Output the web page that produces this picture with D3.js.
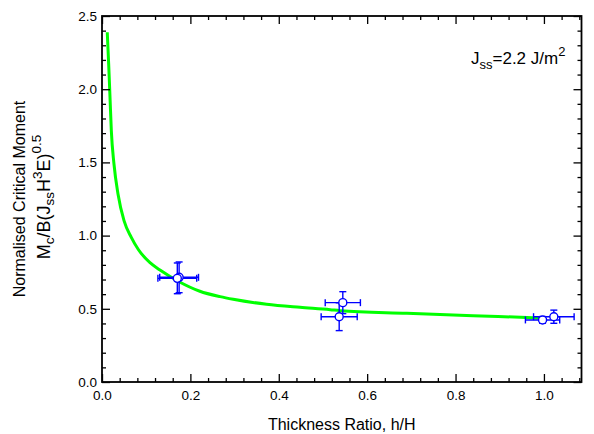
<!DOCTYPE html>
<html lang="en">
<head>
  <meta charset="UTF-8">
  <title>Critical Moment</title>
  <style>
    html, body { margin: 0; padding: 0; background: #fff; }
    text { font-family: 'Liberation Sans', Arial, sans-serif; fill: #000; }
    .tickLbl { font-size: 13.5px; }
    .axTitle { font-size: 16px; }
  </style>
  <script src="https://cdn.jsdelivr.net/npm/d3@7"></script>
</head>
<body>
<script>
  // ---- data ----
  const xMajor = [0, 0.2, 0.4, 0.6, 0.8, 1.0];
  const xMinor = [0.04, 0.08, 0.12, 0.16, 0.24, 0.28, 0.32, 0.36, 0.44, 0.48, 0.52, 0.56,
                  0.64, 0.68, 0.72, 0.76, 0.84, 0.88, 0.92, 0.96, 1.04, 1.08];
  const yMajor = [0, 0.5, 1.0, 1.5, 2.0, 2.5];
  const yMinor = [0.1, 0.2, 0.3, 0.4, 0.6, 0.7, 0.8, 0.9, 1.1, 1.2, 1.3, 1.4,
                  1.6, 1.7, 1.8, 1.9, 2.1, 2.2, 2.3, 2.4];

  // fitted curve (green), sampled off the figure
  const curveX = [0.0119, 0.0151, 0.0181, 0.0211, 0.0271, 0.0362, 0.0498, 0.0663, 0.0822,
                  0.1086, 0.1312, 0.1745, 0.2214, 0.2673, 0.2969, 0.3724, 0.4479, 0.5163, 0.5387,
                  0.6898, 0.8398, 0.9755, 1.0];
  const curveY = [2.389, 2.172, 1.945, 1.717, 1.489, 1.284, 1.102, 0.988, 0.905,
                  0.815, 0.765, 0.685, 0.62, 0.583, 0.565, 0.531, 0.51, 0.494, 0.487,
                  0.469, 0.453, 0.439, 0.436];

  // measured points with error bars
  const pointX = [0.1745, 0.1704, 0.5449, 0.5367, 0.9969, 1.0224];
  const pointY = [0.715, 0.708, 0.542, 0.446, 0.424, 0.446];
  const errX = [0.0439, 0.0439, 0.0398, 0.0408, 0.0388, 0.0459];
  const errY = [0.105, 0.105, 0.075, 0.095, 0.023, 0.045];

  const width = 594;
  const height = 434;
  const padL = 102, padR = 12.5, padT = 16, padB = 52;

  const xScale = d3.scaleLinear().domain([0, 1.085]).range([padL, width - padR]);
  const yScale = d3.scaleLinear().domain([0, 2.5]).range([height - padB, padT]);

  const svg = d3.select('body').append('svg')
    .attr('width', width)
    .attr('height', height);

  // ---- curve ----
  const line = d3.line()
    .x((d) => xScale(d[0]))
    .y((d) => yScale(d[1]))
    .curve(d3.curveMonotoneX);
  svg.append('path')
    .datum(curveX.map((x, i) => [x, curveY[i]]))
    .attr('d', line)
    .attr('fill', 'none')
    .attr('stroke', '#00ff00')
    .attr('stroke-width', 3);

  // ---- error bars + markers ----
  const pts = pointX.map((x, i) => ({ x, y: pointY[i], ex: errX[i], ey: errY[i] }));
  const cap = 3.5;
  const blue = '#0000ff';
  const eg = svg.append('g').attr('stroke', blue).attr('stroke-width', 1.4).attr('fill', 'none');
  pts.forEach((d) => {
    const cx = xScale(d.x), cy = yScale(d.y);
    const x0 = xScale(d.x - d.ex), x1 = xScale(d.x + d.ex);
    const y0 = yScale(d.y - d.ey), y1 = yScale(d.y + d.ey);
    eg.append('line').attr('x1', x0).attr('x2', x1).attr('y1', cy).attr('y2', cy);
    eg.append('line').attr('x1', x0).attr('x2', x0).attr('y1', cy - cap).attr('y2', cy + cap);
    eg.append('line').attr('x1', x1).attr('x2', x1).attr('y1', cy - cap).attr('y2', cy + cap);
    eg.append('line').attr('x1', cx).attr('x2', cx).attr('y1', y0).attr('y2', y1);
    eg.append('line').attr('x1', cx - cap).attr('x2', cx + cap).attr('y1', y0).attr('y2', y0);
    eg.append('line').attr('x1', cx - cap).attr('x2', cx + cap).attr('y1', y1).attr('y2', y1);
  });
  svg.append('g').selectAll('circle')
    .data(pts)
    .enter()
    .append('circle')
    .attr('cx', (d) => xScale(d.x))
    .attr('cy', (d) => yScale(d.y))
    .attr('r', 4)
    .attr('fill', '#fff')
    .attr('stroke', blue)
    .attr('stroke-width', 1.4);

  // ---- axes (ticks inward, mirrored on top/right) ----
  function styleAxis(g) {
    g.select('.domain').remove();
    g.selectAll('.tick line').attr('stroke', '#000').attr('stroke-width', 1.3);
  }
  const bottom = height - padB;
  svg.append('g')
    .attr('transform', `translate(0,${bottom})`)
    .call(d3.axisBottom(xScale).tickValues(xMajor).tickSize(-8).tickPadding(8)
      .tickFormat(d3.format('.1f')))
    .call(styleAxis)
    .selectAll('text').attr('class', 'tickLbl').attr('fill', null);
  svg.append('g')
    .attr('transform', `translate(0,${bottom})`)
    .call(d3.axisBottom(xScale).tickValues(xMinor).tickSize(-4).tickFormat(''))
    .call(styleAxis);
  svg.append('g')
    .attr('transform', `translate(0,${padT})`)
    .call(d3.axisTop(xScale).tickValues(xMajor).tickSize(-8).tickFormat(''))
    .call(styleAxis);
  svg.append('g')
    .attr('transform', `translate(0,${padT})`)
    .call(d3.axisTop(xScale).tickValues(xMinor).tickSize(-4).tickFormat(''))
    .call(styleAxis);

  svg.append('g')
    .attr('transform', `translate(${padL},0)`)
    .call(d3.axisLeft(yScale).tickValues(yMajor).tickSize(-8).tickPadding(5)
      .tickFormat(d3.format('.1f')))
    .call(styleAxis)
    .selectAll('text').attr('class', 'tickLbl').attr('fill', null);
  svg.append('g')
    .attr('transform', `translate(${padL},0)`)
    .call(d3.axisLeft(yScale).tickValues(yMinor).tickSize(-4).tickFormat(''))
    .call(styleAxis);
  svg.append('g')
    .attr('transform', `translate(${width - padR},0)`)
    .call(d3.axisRight(yScale).tickValues(yMajor).tickSize(-8).tickFormat(''))
    .call(styleAxis);
  svg.append('g')
    .attr('transform', `translate(${width - padR},0)`)
    .call(d3.axisRight(yScale).tickValues(yMinor).tickSize(-4).tickFormat(''))
    .call(styleAxis);

  svg.selectAll('g').attr('font-family', null).attr('font-size', null);

  // frame
  svg.append('rect')
    .attr('x', padL)
    .attr('y', padT)
    .attr('width', width - padR - padL)
    .attr('height', height - padB - padT)
    .attr('fill', 'none')
    .attr('stroke', '#000')
    .attr('stroke-width', 1.8);

  // ---- titles ----
  svg.append('text')
    .attr('class', 'axTitle')
    .attr('x', (padL + width - padR) / 2)
    .attr('y', 430)
    .attr('text-anchor', 'middle')
    .text('Thickness Ratio, h/H');

  const midY = (padT + bottom) / 2;
  svg.append('text')
    .attr('class', 'axTitle')
    .attr('transform', 'rotate(-90)')
    .attr('x', -midY)
    .attr('y', 25)
    .attr('text-anchor', 'middle')
    .style('font-size', '16px')
    .text('Normalised Critical Moment');

  const t2 = svg.append('text')
    .attr('class', 'axTitle')
    .attr('transform', 'rotate(-90)')
    .attr('x', -midY + 2)
    .attr('y', 50)
    .attr('text-anchor', 'middle')
    .style('font-size', '18px');
  t2.append('tspan').text('M');
  t2.append('tspan').attr('dy', 4).style('font-size', '13.5px').text('c');
  t2.append('tspan').attr('dy', -4).text('/B(J');
  t2.append('tspan').attr('dy', 4).style('font-size', '13.5px').text('ss');
  t2.append('tspan').attr('dy', -4).text('H');
  t2.append('tspan').attr('dy', -8).style('font-size', '13.5px').text('3');
  t2.append('tspan').attr('dy', 8).text('E)');
  t2.append('tspan').attr('dy', -9).style('font-size', '13.5px').text('0.5');

  const ann = svg.append('text')
    .attr('class', 'axTitle')
    .attr('x', 471)
    .attr('y', 64)
    .style('font-size', '17px');
  ann.append('tspan').text('J');
  ann.append('tspan').attr('dy', 5).style('font-size', '13px').text('ss');
  ann.append('tspan').attr('dy', -5).text('=2.2 J/m');
  ann.append('tspan').attr('dy', -8).style('font-size', '13px').text('2');
</script>
</body>
</html>
